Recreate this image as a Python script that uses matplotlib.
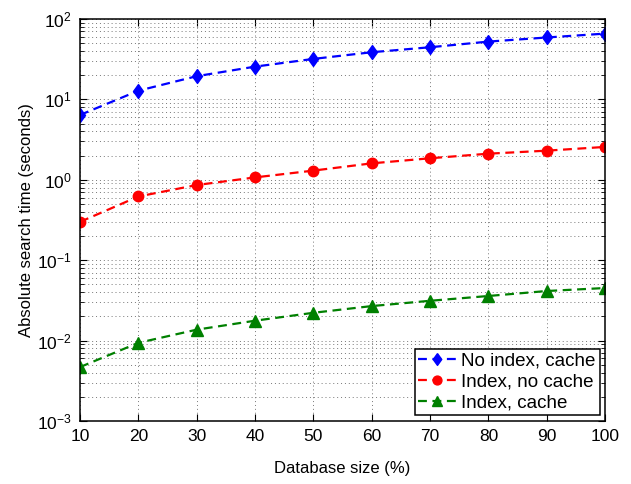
import matplotlib
matplotlib.use("Agg")
import matplotlib.pyplot as plt
from matplotlib.ticker import LogLocator, NullFormatter

plt.rcParams['font.family'] = ['Liberation Sans', 'DejaVu Sans']

db_size = [10, 20, 30, 40, 50, 60, 70, 80, 90, 100]
no_index_cache = [6.4, 12.8, 19.4, 25.5, 31.8, 38.5, 44.4, 52.2, 58.7, 65.6]
index_no_cache = [0.30, 0.62, 0.86, 1.07, 1.30, 1.60, 1.85, 2.11, 2.30, 2.56]
index_cache = [0.0047, 0.0094, 0.0137, 0.0177, 0.0222, 0.0269, 0.0313, 0.0359, 0.0414, 0.0451]

# diamond a bit taller than wide
diamond = [(0, 1), (0.72, 0), (0, -1), (-0.72, 0), (0, 1)]

fig = plt.figure(figsize=(6.31, 4.84), dpi=100)
ax = fig.add_axes([0.127, 0.130, 0.832, 0.831])
ax.set_axisbelow(True)

ax.semilogy(db_size, no_index_cache, color='#0000ff', marker=diamond, markersize=10,
            lw=1.6, label='No index, cache', dashes=(4, 2.5))
ax.semilogy(db_size, index_no_cache, color='#ff0000', marker='o', markersize=7.5,
            lw=1.6, label='Index, no cache', dashes=(4, 2.5))
ax.semilogy(db_size, index_cache, color='#008000', marker='^', markersize=8,
            lw=1.6, label='Index, cache', dashes=(4, 2.5))

ax.set_xlim(10, 100)
ax.set_ylim(1e-3, 1e2)
ax.set_xticks(db_size)
ax.yaxis.set_major_locator(LogLocator(base=10, numticks=10))
ax.yaxis.set_minor_locator(LogLocator(base=10, subs=range(2, 10), numticks=20))
ax.yaxis.set_minor_formatter(NullFormatter())

ax.grid(True, which='major', linestyle=(0, (1, 3)), color='#777777', lw=0.7)
ax.grid(True, which='minor', axis='y', linestyle=(0, (1, 3)), color='#777777', lw=0.7)
ax.tick_params(which='both', direction='in', top=True, right=True, labelsize=12.5)
ax.tick_params(which='major', length=5, pad=6)
ax.tick_params(which='minor', length=3)
for s in ax.spines.values():
    s.set_linewidth(1.1)

ax.set_xlabel('Database size (%)', fontsize=12, labelpad=12)
ax.set_ylabel('Absolute search time (seconds)', fontsize=12, labelpad=2)

leg = ax.legend(loc='lower right', fontsize=13.5, fancybox=False, framealpha=1,
                edgecolor='black', borderaxespad=0.3, handlelength=2.0,
                handletextpad=0.3, borderpad=0.2, labelspacing=0.2,
                markerscale=0.85)
leg.get_frame().set_linewidth(1.1)

fig.savefig('out.png', dpi=100)
